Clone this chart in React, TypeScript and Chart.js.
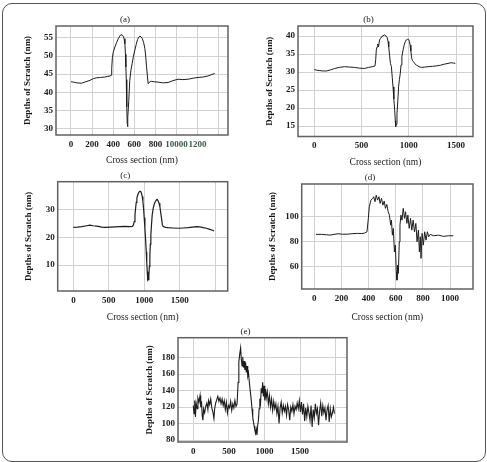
import React, { useEffect, useRef } from 'react';
import { Chart, registerables } from 'chart.js';

Chart.register(...registerables);

const FONT = "'Liberation Serif', 'Times New Roman', serif";

// ---------- Panel (a) ----------
const xA = [0, 25, 55, 100, 140, 180, 215, 245, 280, 320, 350, 370, 380, 386, 392, 400, 416, 432, 448, 462, 473, 485, 495, 503, 511, 516, 520, 524, 527, 530, 533, 536, 540, 548, 557, 568, 580, 592, 605, 618, 631, 642, 653, 664, 675, 688, 700, 708, 716, 724, 731, 740, 750, 763, 790, 826, 870, 920, 965, 1015, 1060, 1110, 1160, 1204, 1250, 1299, 1335, 1362];
const yA = [42.9, 42.8, 42.6, 42.5, 42.9, 43.3, 43.8, 44.0, 44.1, 44.2, 44.4, 44.5, 44.7, 46.5, 49.5, 51.0, 52.5, 53.7, 54.8, 55.5, 55.9, 55.8, 55.5, 54.8, 53.4, 50.5, 47.0, 43.5, 40.6, 36.0, 31.4, 30.5, 33.0, 37.8, 43.3, 46.0, 48.0, 50.0, 51.6, 53.2, 54.6, 55.2, 55.5, 55.3, 54.9, 53.8, 52.1, 50.0, 47.0, 44.5, 42.4, 42.6, 43.0, 43.0, 42.9, 42.8, 42.6, 42.7, 43.2, 43.6, 43.5, 43.6, 43.9, 44.1, 44.2, 44.5, 44.9, 45.2];
const xTickValsA = [0, 200, 400, 600, 800, 1000, 1200, 1400];
const xTickLabsA = ['0', '200', '400', '600', '800', '10000', '1200', ''];
const yTickValsA = [30, 35, 40, 45, 50, 55];
const yTickLabsA = ['30', '35', '40', '45', '50', '55'];

// ---------- Panel (b) ----------
const xB = [0, 30, 59, 95, 128, 170, 215, 265, 319, 370, 424, 475, 528, 575, 615, 642, 650, 656, 664, 672, 680, 690, 700, 719, 743, 760, 771, 780, 788, 797, 806, 816, 825, 833, 842, 851, 857, 861, 866, 875, 884, 892, 901, 910, 918, 927, 940, 951, 962, 972, 985, 997, 1006, 1014, 1022, 1031, 1040, 1049, 1065, 1083, 1110, 1135, 1170, 1205, 1250, 1292, 1335, 1378, 1415, 1448, 1475, 1493];
const yB = [30.7, 30.5, 30.4, 30.3, 30.3, 30.6, 31.0, 31.3, 31.5, 31.4, 31.3, 31.1, 31.0, 31.3, 31.5, 31.7, 33.5, 36.1, 37.0, 37.8, 37.0, 38.9, 39.3, 40.0, 40.3, 40.0, 39.6, 38.5, 37.0, 34.5, 32.4, 31.5, 28.5, 25.9, 22.5, 19.4, 16.5, 14.8, 15.5, 18.5, 22.0, 25.9, 28.0, 29.6, 32.0, 34.3, 36.2, 37.5, 38.4, 38.9, 39.1, 39.1, 38.6, 37.5, 35.8, 33.8, 33.2, 32.9, 32.3, 31.9, 31.5, 31.3, 31.4, 31.5, 31.6, 31.7, 31.9, 32.2, 32.4, 32.6, 32.5, 32.4];
const xTickValsB = [0, 500, 1000, 1500];
const xTickLabsB = ['0', '500', '1000', '1500'];
const yTickValsB = [15, 20, 25, 30, 35, 40];
const yTickLabsB = ['15', '20', '25', '30', '35', '40'];

// ---------- Panel (c) ----------
const xC = [0, 60, 117, 187, 230, 281, 352, 400, 445, 520, 586, 650, 727, 790, 830, 845, 858, 868, 877, 886, 895, 909, 923, 937, 952, 961, 970, 980, 989, 998, 1008, 1018, 1027, 1034, 1041, 1046, 1050, 1055, 1064, 1071, 1078, 1085, 1092, 1101, 1111, 1125, 1139, 1155, 1172, 1184, 1195, 1207, 1219, 1230, 1242, 1254, 1266, 1300, 1336, 1400, 1477, 1550, 1617, 1680, 1734, 1780, 1828, 1875, 1922, 1960, 1983];
const yC = [23.5, 23.6, 23.8, 24.1, 24.3, 24.1, 23.9, 23.6, 23.5, 23.6, 23.7, 23.8, 23.9, 23.8, 23.9, 24.3, 25.6, 28.0, 30.4, 32.5, 34.0, 35.3, 36.1, 36.5, 36.3, 35.6, 34.6, 32.8, 30.4, 27.0, 23.2, 19.0, 14.8, 11.0, 7.6, 5.5, 4.6, 4.8, 6.4, 9.5, 13.6, 17.5, 20.8, 24.5, 28.0, 30.3, 31.8, 32.8, 33.4, 33.5, 33.0, 32.2, 31.0, 29.0, 26.8, 24.5, 23.8, 23.5, 23.4, 23.3, 23.2, 23.3, 23.4, 23.6, 23.8, 23.7, 23.4, 23.2, 22.8, 22.5, 22.2];
const xTickValsC = [0, 500, 1000, 1500, 2000];
const xTickLabsC = ['0', '500', '1000', '1500', ''];
const yTickValsC = [10, 20, 30];
const yTickLabsC = ['10', '20', '30'];

// ---------- Panel (d) ----------
const xD = [12, 53, 90, 114, 145, 175, 210, 248, 285, 320, 350, 369, 388, 398, 405, 417, 430, 437, 447, 456, 466, 476, 485, 495, 505, 515, 524, 534, 544, 553, 563, 568, 575, 582, 590, 597, 604, 609, 614, 619, 626, 631, 638, 646, 655, 665, 672, 682, 689, 699, 709, 718, 728, 738, 748, 757, 767, 774, 781, 786, 794, 803, 813, 823, 833, 842, 854, 879, 915, 951, 988, 1024];
const yD = [85.9, 85.9, 85.6, 85.3, 85.9, 86.4, 86.0, 86.1, 86.5, 86.7, 86.6, 86.9, 88.0, 98.7, 108.0, 113.3, 114.7, 116.0, 112.0, 117.3, 113.3, 116.0, 110.7, 114.7, 109.3, 112.5, 106.7, 109.9, 104.0, 101.3, 93.3, 97.3, 85.3, 90.7, 72.0, 77.3, 56.0, 49.3, 61.3, 54.7, 80.0, 93.3, 101.3, 97.3, 106.7, 98.7, 104.0, 94.7, 101.3, 90.7, 98.7, 89.3, 97.3, 88.0, 94.7, 80.0, 89.3, 72.0, 84.0, 66.7, 86.7, 77.3, 88.0, 81.3, 88.0, 84.0, 85.9, 84.8, 85.3, 84.3, 84.8, 84.8];
const xTickValsD = [0, 200, 400, 600, 800, 1000];
const xTickLabsD = ['0', '200', '400', '600', '800', '1000'];
const yTickValsD = [60, 80, 100];
const yTickLabsD = ['60', '80', '100'];

// ---------- Panel (e) ----------
const xE = [0, 10, 20, 30, 40, 55, 65, 80, 95, 105,
  115, 125, 135, 145, 160, 175, 190, 205, 215, 230,
  245, 260, 275, 290, 300, 315, 330, 345, 360, 375,
  390, 405, 420, 435, 450, 465, 480, 495, 510, 525,
  540, 555, 570, 585, 600, 615, 630, 640, 655, 665,
  675, 685, 695, 705, 715, 725, 735, 745, 755, 765,
  775, 790, 800, 815, 825, 835, 845, 855, 865, 875,
  885, 895, 905, 915, 925, 935, 945, 955, 965, 975,
  985, 995, 1005, 1015, 1025, 1040, 1055, 1070, 1085, 1100,
  1115, 1130, 1145, 1160, 1175, 1190, 1205, 1220, 1235, 1250,
  1265, 1280, 1295, 1310, 1325, 1340, 1355, 1370, 1385, 1400,
  1415, 1430, 1445, 1460, 1475, 1490, 1505, 1520, 1535, 1550,
  1565, 1580, 1595, 1610, 1625, 1640, 1655, 1670, 1685, 1700,
  1715, 1730, 1745, 1760, 1775, 1790, 1805, 1820, 1835, 1850,
  1865, 1880, 1895, 1910, 1925, 1940, 1955, 1970, 1983];
const yE = [122, 112, 128, 108, 125, 118, 131, 126, 134, 120,
  127, 110, 104, 118, 113, 121, 125, 117, 128, 123,
  130, 119, 114, 106, 118, 125, 129, 133, 127, 131,
  124, 130, 122, 128, 117, 126, 113, 122, 119, 127,
  116, 124, 119, 128, 121, 124, 150, 175, 186, 192,
  178, 170, 181, 168, 176, 165, 174, 162, 170, 158,
  162, 148, 140, 128, 118, 108, 102, 97, 92, 88,
  93, 86, 98, 104, 118, 130, 125, 143, 137, 150,
  133, 146, 128, 142, 131, 139, 124, 134, 120, 130,
  116, 127, 118, 124, 112, 121, 100, 119, 126, 113,
  122, 115, 121, 110, 123, 117, 104, 120, 115, 123,
  112, 121, 117, 125, 118, 128, 114, 126, 111, 124,
  103, 119, 108, 121, 113, 104, 122, 96, 117, 107,
  124, 112, 118, 98, 115, 125, 109, 122, 113, 119,
  104, 117, 122, 102, 118, 108, 113, 120, 112];
const xTickValsE = [0, 500, 1000, 1500, 2000];
const xTickLabsE = ['0', '500', '1000', '1500', ''];
const yTickValsE = [80, 100, 120, 140, 160, 180];
const yTickLabsE = ['80', '100', '120', '140', '160', '180'];

const titles = ['(a)', '(b)', '(c)', '(d)', '(e)'];
const yAxisTitle = 'Depths of Scratch (nm)';
const xAxisTitle = 'Cross section (nm)';

type Panel = {
  title: string;
  xs: number[]; ys: number[];
  xMin: number; xMax: number; xVals: number[]; xLabs: string[];
  yMin: number; yMax: number; yVals: number[]; yLabs: string[];
  L: number; R: number; T: number; B: number;
  yTitleX: number; xTitleY: number | null;
  lw: number;
  greenVals?: number[];
};

const panels: Panel[] = [
  { title: titles[0], xs: xA, ys: yA, xMin: -142, xMax: 1488, xVals: xTickValsA, xLabs: xTickLabsA,
    yMin: 28.2, yMax: 58.3, yVals: yTickValsA, yLabs: yTickLabsA,
    L: 56, R: 228, T: 26, B: 135, yTitleX: 28, xTitleY: 161, lw: 1, greenVals: [1000, 1200] },
  { title: titles[1], xs: xB, ys: yB, xMin: -173, xMax: 1680, xVals: xTickValsB, xLabs: xTickLabsB,
    yMin: 12.1, yMax: 42.8, yVals: yTickValsB, yLabs: yTickLabsB,
    L: 298, R: 473, T: 26, B: 136.5, yTitleX: 270, xTitleY: 163, lw: 1 },
  { title: titles[2], xs: xC, ys: yC, xMin: -221, xMax: 2175, xVals: xTickValsC, xLabs: xTickLabsC,
    yMin: 0.7, yMax: 39.9, yVals: yTickValsC, yLabs: yTickLabsC,
    L: 57.7, R: 227.7, T: 181.7, B: 291, yTitleX: 29, xTitleY: 317.7, lw: 1.2 },
  { title: titles[3], xs: xD, ys: yD, xMin: -93, xMax: 1169, xVals: xTickValsD, xLabs: xTickLabsD,
    yMin: 42.2, yMax: 126.2, yVals: yTickValsD, yLabs: yTickLabsD,
    L: 301.7, R: 473, T: 184, B: 289, yTitleX: 273, xTitleY: 317.3, lw: 1 },
  { title: titles[4], xs: xE, ys: yE, xMin: -215, xMax: 2160, xVals: xTickValsE, xLabs: xTickLabsE,
    yMin: 77.6, yMax: 204.3, yVals: yTickValsE, yLabs: yTickLabsE,
    L: 178, R: 347, T: 337.7, B: 442, yTitleX: 150, xTitleY: null, lw: 1.1 },
];

const lookup = (vals: number[], labs: string[]) => (v: number | string) => {
  const n = Number(v);
  const i = vals.findIndex((t) => Math.abs(t - n) < 1e-6);
  return i >= 0 ? labs[i] : '';
};

const boxPlugin = {
  id: 'plotBox',
  afterDraw(chart: any) {
    const { ctx, chartArea: a } = chart;
    ctx.save();
    ctx.strokeStyle = '#616161';
    ctx.lineWidth = 1.5;
    ctx.strokeRect(a.left, a.top, a.right - a.left, a.bottom - a.top);
    ctx.restore();
  },
};

function PanelChart({ p }: { p: Panel }) {
  const ref = useRef<HTMLCanvasElement>(null);
  const cl = Math.round(p.yTitleX - 6);
  const ct = Math.round(p.T - 14);
  const cr = Math.round(p.R + 4);
  const cb = p.xTitleY != null ? Math.round(p.xTitleY + 6.25) : 462;
  const w = cr - cl;
  const h = cb - ct;
  const yW = p.L - cl;
  const xH = cb - p.B;
  const topH = p.T - ct;

  useEffect(() => {
    const chart = new Chart(ref.current as HTMLCanvasElement, {
      type: 'line',
      data: {
        datasets: [{
          data: p.xs.map((x, i) => ({ x, y: p.ys[i] })),
          borderColor: '#1c1c1c',
          borderWidth: p.lw,
          pointRadius: 0,
          tension: 0,
          fill: false,
        }],
      },
      options: {
        animation: false,
        responsive: false,
        devicePixelRatio: 1,
        layout: { padding: { left: 0, top: 0, right: cr - p.R, bottom: 0 } },
        plugins: {
          legend: { display: false },
          tooltip: { enabled: false },
          title: {
            display: true,
            text: p.title,
            color: '#222',
            font: { family: FONT, size: 9, weight: 'normal', lineHeight: 1 },
            padding: { top: topH - 10.5, bottom: 1.5 },
          },
        },
        scales: {
          x: {
            type: 'linear',
            min: p.xMin,
            max: p.xMax,
            bounds: 'data',
            afterFit: (s: any) => { s.height = xH; },
            afterBuildTicks: (s: any) => { s.ticks = p.xVals.map((v) => ({ value: v })); },
            grid: { color: '#d2d2d2', lineWidth: 1, drawTicks: false },
            border: { display: false },
            ticks: {
              autoSkip: false,
              maxRotation: 0,
              minRotation: 0,
              padding: 4,
              color: (c: any) => (p.greenVals && c.tick && p.greenVals.includes(c.tick.value) ? '#3b5a45' : '#1a1a1a'),
              font: { family: FONT, size: 9, weight: 'bold' },
              callback: lookup(p.xVals, p.xLabs),
            },
            title: {
              display: p.xTitleY != null,
              text: xAxisTitle,
              color: '#222',
              font: { family: FONT, size: 9.5, weight: 'normal', lineHeight: 1 },
              padding: { top: 0, bottom: 1.5 },
            },
          },
          y: {
            type: 'linear',
            min: p.yMin,
            max: p.yMax,
            bounds: 'data',
            afterFit: (s: any) => { s.width = yW; },
            afterBuildTicks: (s: any) => { s.ticks = p.yVals.map((v) => ({ value: v })); },
            grid: { color: '#d2d2d2', lineWidth: 1, drawTicks: false },
            border: { display: false },
            ticks: {
              autoSkip: false,
              padding: 3,
              color: '#1a1a1a',
              font: { family: FONT, size: 9, weight: 'bold' },
              callback: lookup(p.yVals, p.yLabs),
            },
            title: {
              display: true,
              text: yAxisTitle,
              color: '#111',
              font: { family: FONT, size: 9, weight: 'bold', lineHeight: 1 },
              padding: { top: 1.5, bottom: 0 },
            },
          },
        },
      } as any,
      plugins: [boxPlugin],
    });
    return () => chart.destroy();
  }, []);

  return (
    <canvas
      ref={ref}
      width={w}
      height={h}
      style={{ position: 'absolute', left: cl, top: ct, width: w, height: h }}
    />
  );
}

export default function App() {
  return (
    <div style={{ position: 'fixed', left: 0, top: 0, width: 487, height: 462, background: '#fff', overflow: 'hidden' }}>
      <div
        style={{
          position: 'absolute', left: 2, top: 3, width: 484, height: 459, boxSizing: 'border-box',
          border: '1px solid #555', borderRadius: 10,
        }}
      />
      {panels.map((p, i) => <PanelChart key={i} p={p} />)}
    </div>
  );
}
